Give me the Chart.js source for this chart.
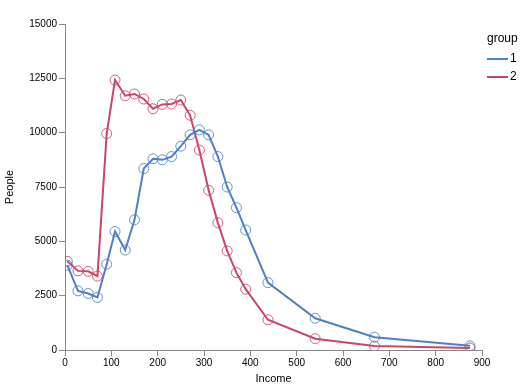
<!DOCTYPE html>
<html>
<head>
<meta charset="utf-8">
<script src="https://cdn.jsdelivr.net/npm/chart.js@4/dist/chart.umd.min.js"></script>
<style>
  html, body { margin: 0; padding: 0; background: #fff; }
  #wrap { width: 525px; height: 386px; }
</style>
</head>
<body>
<div id="wrap"><canvas id="chart1" width="525" height="386"></canvas></div>
<script>
// Income values (x) shared by both groups
var incomes = [5, 28, 50, 70, 90, 108, 130, 150, 170, 190, 210, 230, 250, 270, 290, 310, 330, 350, 370, 390, 438, 540, 668, 874];

// People per income, group 1 and group 2
var group1 = [3900, 2720, 2600, 2420, 3950, 5450, 4600, 5990, 8350, 8800, 8750, 8900, 9380, 9900, 10130, 9900, 8900, 7500, 6550, 5520, 3100, 1460, 590, 190];
var group2 = [4080, 3640, 3620, 3400, 9960, 12420, 11700, 11780, 11550, 11100, 11300, 11320, 11500, 10800, 9200, 7350, 5850, 4560, 3560, 2800, 1390, 520, 180, 90];

var groupNames = ['1', '2'];
var xTicks = [0, 100, 200, 300, 400, 500, 600, 700, 800, 900];
var yTicks = [0, 2500, 5000, 7500, 10000, 12500, 15000];

var blue = '#4f7fc7';
var red = '#cc4468';

function toPoints(values) {
    return values.map(function(v, i) { return { x: incomes[i], y: v }; });
}

// plain numbers, no thousand separators
function plainLabel(value) {
    return String(value);
}

// Small legend drawn by hand, to the right of the plot
var legendPlugin = {
    id: 'groupLegend',
    afterDraw: function(chart) {
        var ctx = chart.ctx;
        var left = chart.chartArea.right + 5;
        ctx.save();
        ctx.font = '12px "Liberation Sans", Arial, sans-serif';
        ctx.fillStyle = '#000';
        ctx.textBaseline = 'middle';
        ctx.textAlign = 'left';
        ctx.fillText('group', left, 39);
        var colors = [blue, red];
        for (var i = 0; i < groupNames.length; i++) {
            var y = 59 + i * 18;
            ctx.strokeStyle = colors[i];
            ctx.lineWidth = 2;
            ctx.beginPath();
            ctx.moveTo(left, y);
            ctx.lineTo(left + 21, y);
            ctx.stroke();
            ctx.fillText(groupNames[i], left + 23, y);
        }
        ctx.restore();
    }
};

document.addEventListener('DOMContentLoaded', function() {
    var ctx1 = document.getElementById('chart1').getContext('2d');
    new Chart(ctx1, {
        type: 'line',
        data: {
            datasets: [{
                label: groupNames[0],
                data: toPoints(group1),
                borderColor: blue,
                borderWidth: 2,
                backgroundColor: 'rgba(0,0,0,0)',
                pointRadius: 5,
                pointBorderWidth: 1,
                pointBorderColor: 'rgba(79,127,199,0.85)',
                pointBackgroundColor: 'rgba(0,0,0,0)',
                tension: 0
            }, {
                label: groupNames[1],
                data: toPoints(group2),
                borderColor: red,
                borderWidth: 2,
                backgroundColor: 'rgba(0,0,0,0)',
                pointRadius: 5,
                pointBorderWidth: 1,
                pointBorderColor: 'rgba(204,68,104,0.85)',
                pointBackgroundColor: 'rgba(0,0,0,0)',
                tension: 0
            }]
        },
        options: {
            responsive: false,
            animation: false,
            layout: { padding: { top: 24, right: 43, bottom: 0, left: 0 } },
            plugins: {
                legend: { display: false },
                tooltip: { enabled: false }
            },
            scales: {
                x: {
                    type: 'linear',
                    min: 0,
                    max: 900,
                    afterBuildTicks: function(scale) {
                        scale.ticks = xTicks.map(function(v) { return { value: v }; });
                    },
                    afterFit: function(scale) { scale.height = 36; },
                    grid: { drawOnChartArea: false, tickLength: 6, color: '#888' },
                    border: { color: '#888', width: 1 },
                    ticks: {
                        padding: 1,
                        color: '#000',
                        maxRotation: 0,
                        callback: plainLabel,
                        font: { family: '"Liberation Sans", Arial, sans-serif', size: 10 }
                    },
                    title: {
                        display: true,
                        text: 'Income',
                        color: '#000',
                        padding: { top: 0, bottom: 0 },
                        font: { family: '"Liberation Sans", Arial, sans-serif', size: 11 }
                    }
                },
                y: {
                    min: 0,
                    max: 15000,
                    afterBuildTicks: function(scale) {
                        scale.ticks = yTicks.map(function(v) { return { value: v }; });
                    },
                    afterFit: function(scale) { scale.width = 65; },
                    grid: { drawOnChartArea: false, tickLength: 6, color: '#888' },
                    border: { color: '#888', width: 1 },
                    ticks: {
                        padding: 2,
                        color: '#000',
                        callback: plainLabel,
                        font: { family: '"Liberation Sans", Arial, sans-serif', size: 10 }
                    },
                    title: {
                        display: true,
                        text: 'People',
                        color: '#000',
                        padding: { top: 3, bottom: 0 },
                        font: { family: '"Liberation Sans", Arial, sans-serif', size: 11 }
                    }
                }
            }
        },
        plugins: [legendPlugin]
    });
});
</script>
</body>
</html>
